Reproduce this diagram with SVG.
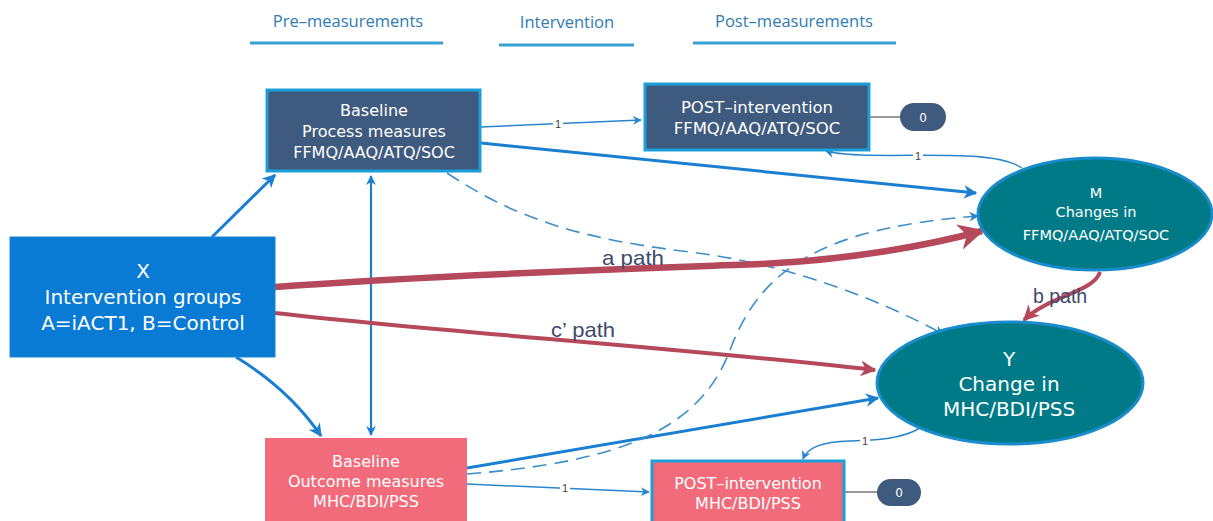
<svg xmlns="http://www.w3.org/2000/svg" width="1213" height="521" viewBox="0 0 1213 521">
<defs>
<style>
.hdr{font-family:"Open Sans","DejaVu Sans",sans-serif;font-size:16.5px;fill:#2f7bb4;text-anchor:middle}
.uline{stroke:#3a9fd2;stroke-width:3}
.nt{font-family:"DejaVu Sans","Open Sans",sans-serif;fill:#ffffff;text-anchor:middle}
.blue{fill:none;stroke:#1a7fd0;stroke-width:3}
.thin{fill:none;stroke:#2a86cc;stroke-width:1.5}
.dash{fill:none;stroke:#3d8fcc;stroke-width:1.6;stroke-dasharray:14 8}
.red{fill:none;stroke:#b5485b}
.plab{font-family:"Liberation Sans",sans-serif;fill:#3f4a6a}
.one{font-family:"Liberation Sans",sans-serif;font-size:11px;fill:#444;text-anchor:middle}
.badge{fill:#3e5a7e}
</style>
<marker id="ab" viewBox="0 0 10 10" refX="9" refY="5" markerWidth="4.5" markerHeight="4.5" markerUnits="strokeWidth" orient="auto-start-reverse"><path d="M0,0 L10,5 L0,10 L3,5 Z" fill="#1a7fd0"/></marker>
<marker id="abt" viewBox="0 0 10 10" refX="9" refY="5" markerWidth="6" markerHeight="6" markerUnits="strokeWidth" orient="auto"><path d="M0,0 L10,5 L0,10 L3,5 Z" fill="#2a86cc"/></marker>
<marker id="abd" viewBox="0 0 10 10" refX="9" refY="5" markerWidth="6" markerHeight="6" markerUnits="strokeWidth" orient="auto"><path d="M0,0 L10,5 L0,10 L3,5 Z" fill="#2a86cc"/></marker>
<marker id="ar" viewBox="0 0 10 10" refX="9" refY="5" markerWidth="4" markerHeight="4" markerUnits="strokeWidth" orient="auto"><path d="M0,0 L10,5 L0,10 L3,5 Z" fill="#b5485b"/></marker>
</defs>
<rect width="1213" height="521" fill="#ffffff"/>

<g id="headers">
<text class="hdr" x="348" y="27">Pre–measurements</text>
<text class="hdr" x="567" y="28">Intervention</text>
<text class="hdr" x="794" y="27">Post–measurements</text>
<line class="uline" x1="250" y1="43" x2="443" y2="43"/>
<line class="uline" x1="499" y1="45" x2="634" y2="45"/>
<line class="uline" x1="693" y1="43" x2="896" y2="43"/>
</g>

<g id="connectors">
<path class="blue" d="M212,237 L275,175" marker-end="url(#ab)"/>
<path class="blue" d="M236,357 Q290,390 321,436" marker-end="url(#ab)"/>
<path class="blue" style="stroke-width:2.2" d="M371,176 L371,435" marker-start="url(#ab)" marker-end="url(#ab)"/>
<path class="blue" d="M481,143 L976,193" marker-end="url(#ab)"/>
<path class="blue" d="M467,468 L878,398" marker-end="url(#ab)"/>
<path class="dash" d="M447,173 C520,222 590,240 690,252 C790,264 880,300 943,334" marker-end="url(#abd)"/>
<path class="dash" d="M467,474 C620,462 700,430 730,350 S820,228 978,216" marker-end="url(#abd)"/>
<path class="red" style="stroke-width:6.5" d="M275,287 C450,274 650,268 760,264 C850,260 930,245 982,231" marker-end="url(#ar)"/>
<path class="red" style="stroke-width:4" d="M275,313 C450,333 650,345 875,370" marker-end="url(#ar)"/>
<path class="red" style="stroke-width:4" d="M1100,272 C1094,292 1048,296 1024,320" marker-end="url(#ar)"/>
<path class="thin" d="M481,127 L641,120" marker-end="url(#abt)"/>
<path class="thin" d="M1022,168 C995,150 920,157 860,155 C840,154 832,153 826,151" marker-end="url(#abt)"/>
<path class="thin" d="M467,484 L649,492" marker-end="url(#abt)"/>
<path class="thin" d="M920,428 C900,440 872,440 850,441 C822,442 808,447 803,459" marker-end="url(#abt)"/>
<line x1="870" y1="117" x2="901" y2="117" stroke="#777" stroke-width="1.5"/>
<line x1="845" y1="492" x2="878" y2="492" stroke="#777" stroke-width="1.5"/>
<rect x="553" y="117" width="10" height="13" fill="#fff"/>
<text class="one" x="558" y="128">1</text>
<rect x="913" y="149" width="10" height="13" fill="#fff"/>
<text class="one" x="918" y="160">1</text>
<rect x="560" y="481" width="10" height="13" fill="#fff"/>
<text class="one" x="565" y="492">1</text>
<rect x="860" y="434" width="10" height="13" fill="#fff"/>
<text class="one" x="865" y="445">1</text>
<text class="plab" x="602" y="265" font-size="21" textLength="62" lengthAdjust="spacingAndGlyphs">a path</text>
<text class="plab" x="551" y="337" font-size="21" textLength="64" lengthAdjust="spacingAndGlyphs">c’ path</text>
<text class="plab" x="1033" y="303" font-size="19.5">b path</text>
</g>

<g id="node-x">
<rect x="10" y="237" width="265" height="120" fill="#0a7bd4" stroke="#1a86d6" stroke-width="1"/>
<text class="nt" x="143" y="278" font-size="20">X</text>
<text class="nt" x="143" y="304" font-size="20">Intervention groups</text>
<text class="nt" x="143" y="330" font-size="20">A=iACT1, B=Control</text>
</g>

<g id="node-baseline-process">
<rect x="267" y="90" width="213" height="81" fill="#3e5a7e" stroke="#1a9fd8" stroke-width="3"/>
<text class="nt" x="374" y="116" font-size="16">Baseline</text>
<text class="nt" x="374" y="137" font-size="16">Process measures</text>
<text class="nt" x="374" y="158" font-size="16">FFMQ/AAQ/ATQ/SOC</text>
</g>

<g id="node-post-process">
<rect x="645" y="84" width="224" height="66" fill="#3e5a7e" stroke="#1a9fd8" stroke-width="3"/>
<text class="nt" x="757" y="113" font-size="16.5">POST–intervention</text>
<text class="nt" x="757" y="134" font-size="16.5">FFMQ/AAQ/ATQ/SOC</text>
</g>

<g id="badge-top">
<rect class="badge" x="900" y="103" width="46" height="28" rx="14"/>
<text class="nt" x="923" y="122" font-size="12">0</text>
</g>

<g id="node-m">
<ellipse cx="1095" cy="214" rx="117" ry="56" fill="#007a86" stroke="#1a8ccc" stroke-width="3"/>
<text class="nt" x="1096" y="198" font-size="14.5">M</text>
<text class="nt" x="1096" y="217" font-size="14.5">Changes in</text>
<text class="nt" x="1096" y="240" font-size="14.5">FFMQ/AAQ/ATQ/SOC</text>
</g>

<g id="node-y">
<ellipse cx="1010" cy="383" rx="133" ry="61" fill="#007a86" stroke="#1a8ccc" stroke-width="3"/>
<text class="nt" x="1009" y="366" font-size="20">Y</text>
<text class="nt" x="1009" y="391" font-size="20">Change in</text>
<text class="nt" x="1009" y="416" font-size="20">MHC/BDI/PSS</text>
</g>

<g id="node-baseline-outcome">
<rect x="265" y="438" width="202" height="90" fill="#f26b7b"/>
<text class="nt" x="366" y="467" font-size="16">Baseline</text>
<text class="nt" x="366" y="487" font-size="16">Outcome measures</text>
<text class="nt" x="366" y="507" font-size="16">MHC/BDI/PSS</text>
</g>

<g id="node-post-outcome">
<rect x="652" y="461" width="192" height="70" fill="#f26b7b" stroke="#1a9fd8" stroke-width="3"/>
<text class="nt" x="748" y="489" font-size="16">POST–intervention</text>
<text class="nt" x="748" y="509" font-size="16">MHC/BDI/PSS</text>
</g>

<g id="badge-bottom">
<rect class="badge" x="877" y="479" width="44" height="27" rx="13.5"/>
<text class="nt" x="899" y="497" font-size="12">0</text>
</g>
</svg>
